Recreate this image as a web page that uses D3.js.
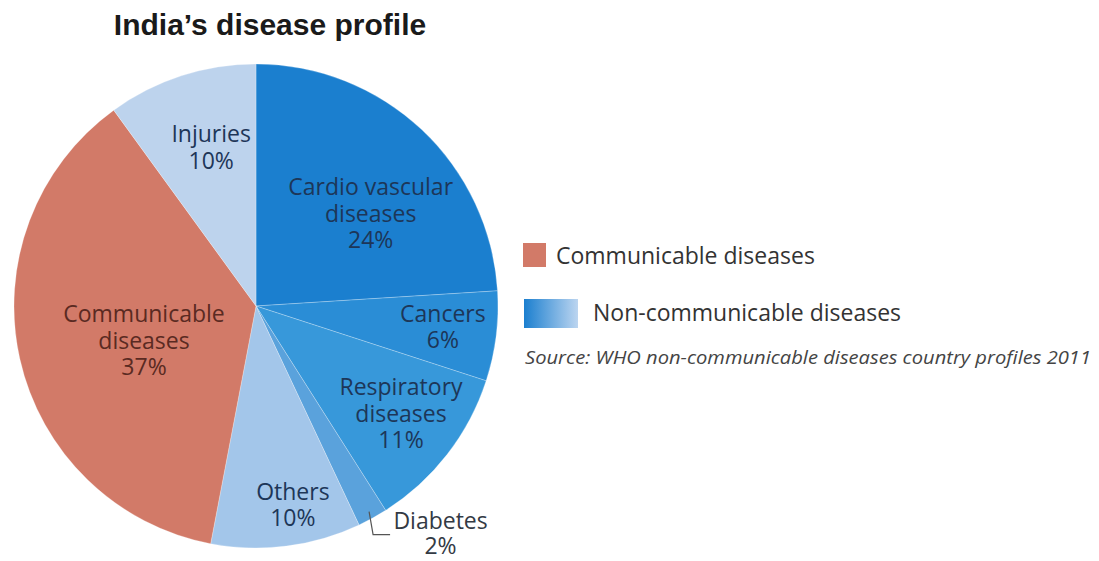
<!DOCTYPE html>
<html>
<head>
<meta charset="utf-8">
<script src="https://cdn.jsdelivr.net/npm/d3@7"></script>
<style>
  html, body { margin: 0; padding: 0; background: #fff; }
  svg { display: block; }
</style>
</head>
<body>
<svg id="chart" width="1099" height="561"></svg>
<script>
// India's disease profile — share of deaths by cause (WHO NCD country profiles 2011)
const categories = ["Cardio vascular diseases", "Cancers", "Respiratory diseases", "Diabetes", "Others", "Communicable diseases", "Injuries"];
const labelLines = [["Cardio vascular", "diseases"], ["Cancers"], ["Respiratory", "diseases"], ["Diabetes"], ["Others"], ["Communicable", "diseases"], ["Injuries"]];
const shares = [24, 6, 11, 2, 10, 37, 10];
const sliceColors = ["#1b7fcf", "#2a8dd6", "#3798da", "#5aa2dc", "#a3c6ea", "#d27a68", "#bdd3ed"];
const legendItems = ["Communicable diseases", "Non-communicable diseases"];
const sourceText = "Source: WHO non-communicable diseases country profiles 2011";

const svg = d3.select("#chart");
const cx = 256, cy = 306, radius = 242;
const labelFont = "Open Sans, Noto Sans, sans-serif";

// Title
svg.append("text")
  .attr("x", 270).attr("y", 35)
  .attr("text-anchor", "middle")
  .attr("font-family", "Liberation Sans, Arial, sans-serif")
  .attr("font-weight", "bold")
  .attr("font-size", 30)
  .attr("fill", "#1a1a1a")
  .text("India\u2019s disease profile");

const data = categories.map((c, i) => ({ name: c, value: shares[i], lines: labelLines[i], color: sliceColors[i] }));

const pie = d3.pie().value(d => d.value).sort(null);
const arc = d3.arc().innerRadius(0).outerRadius(radius);
const arcs = pie(data);

const g = svg.append("g").attr("transform", `translate(${cx},${cy})`);

g.selectAll("path.slice")
  .data(arcs)
  .join("path")
  .attr("class", "slice")
  .attr("d", arc)
  .attr("fill", d => d.data.color)
  .attr("stroke", "rgba(255,255,255,0.25)")
  .attr("stroke-width", 1);

// Label placement: radius fraction along each slice's mid-angle, plus a small nudge
const labelPlace = {
  "Cardio vascular diseases": { r: 0.62, dx: 12, dy: 17 },
  "Cancers":                  { r: 0.82, dx: -10, dy: -4 },
  "Respiratory diseases":     { r: 0.68, dx: 15, dy: 7 },
  "Diabetes":                 { r: 1.18, dx: 47, dy: -22 },
  "Others":                   { r: 0.82, dx: 12, dy: 2 },
  "Communicable diseases":    { r: 0.47, dx: -1, dy: 10 },
  "Injuries":                 { r: 0.72, dx: 9, dy: 7 }
};
const textColor = {
  "Communicable diseases": "#5a2a22",
  "Diabetes": "#333a44"
};

const lineH = 26.5;
arcs.forEach(a => {
  const name = a.data.name;
  const p = labelPlace[name];
  const mid = (a.startAngle + a.endAngle) / 2;
  const x = Math.sin(mid) * radius * p.r + p.dx;
  const y = -Math.cos(mid) * radius * p.r + p.dy;
  const lines = a.data.lines.concat([a.data.value + "%"]);
  const lh = name === "Diabetes" ? 25 : lineH;
  const t = g.append("text")
    .attr("text-anchor", "middle")
    .attr("font-family", labelFont)
    .attr("font-size", 23)
    .attr("fill", textColor[name] || "#1d3658");
  const top = y - (lines.length - 1) * lineH / 2;
  lines.forEach((ln, i) => {
    t.append("tspan").attr("x", x).attr("y", top + i * lh + 8).text(ln);
  });
  if (name === "Diabetes") {
    // leader from the thin slice out to its label
    const sx = Math.sin(mid) * radius * 0.97, sy = -Math.cos(mid) * radius * 0.97;
    g.append("path")
      .attr("d", `M${sx},${sy} L${sx + 4},${sy + 23} L${sx + 21},${sy + 23}`)
      .attr("fill", "none")
      .attr("stroke", "#555")
      .attr("stroke-width", 1.2);
  }
});

// Legend
const defs = svg.append("defs");
const grad = defs.append("linearGradient").attr("id", "ncdGrad").attr("x1", "0%").attr("x2", "100%");
grad.append("stop").attr("offset", "0%").attr("stop-color", sliceColors[0]);
grad.append("stop").attr("offset", "100%").attr("stop-color", "#bcd5f0");

svg.append("rect").attr("x", 523).attr("y", 243).attr("width", 23).attr("height", 24)
  .attr("fill", sliceColors[5]);
svg.append("text").attr("x", 556).attr("y", 264)
  .attr("font-family", labelFont).attr("font-size", 23)
  .attr("fill", "#333").text(legendItems[0]);

svg.append("rect").attr("x", 524).attr("y", 299).attr("width", 54).attr("height", 29)
  .attr("fill", "url(#ncdGrad)");
svg.append("text").attr("x", 593).attr("y", 321)
  .attr("font-family", labelFont).attr("font-size", 23)
  .attr("fill", "#333").text(legendItems[1]);

svg.append("text").attr("x", 525).attr("y", 364)
  .attr("font-family", labelFont).attr("font-size", 19)
  .attr("font-style", "italic")
  .attr("textLength", 566).attr("lengthAdjust", "spacingAndGlyphs")
  .attr("fill", "#444").text(sourceText);
</script>
</body>
</html>
